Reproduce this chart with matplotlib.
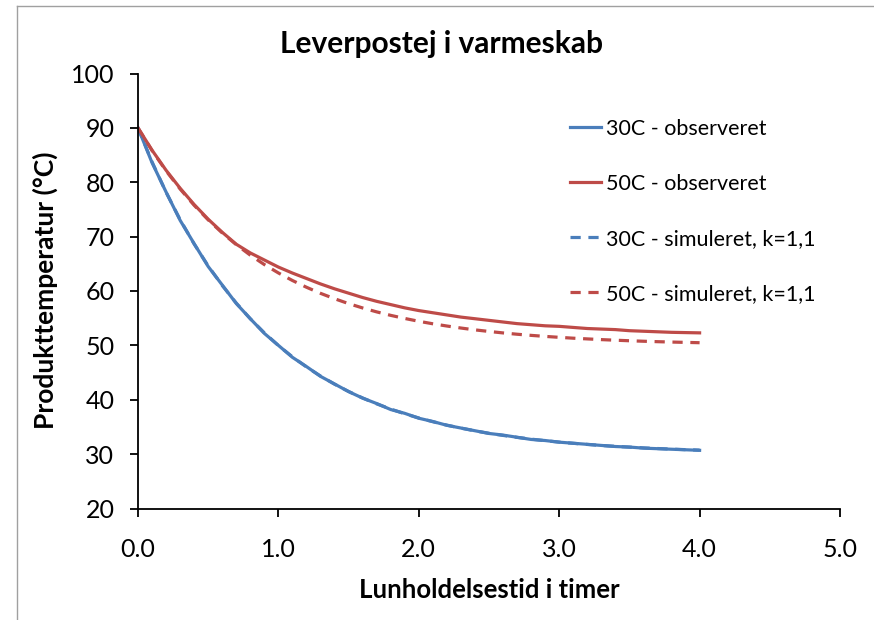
import matplotlib.pyplot as plt
from matplotlib.lines import Line2D

# tid i timer
t = [0.0, 0.1, 0.2, 0.3, 0.4, 0.5, 0.6, 0.7, 0.8, 0.9, 1.0,
     1.1, 1.2, 1.3, 1.4, 1.5, 1.6, 1.7, 1.8, 1.9, 2.0,
     2.1, 2.2, 2.3, 2.4, 2.5, 2.6, 2.7, 2.8, 2.9, 3.0,
     3.1, 3.2, 3.3, 3.4, 3.5, 3.6, 3.7, 3.8, 3.9, 4.0]

obs30 = [90.0, 83.6, 78.2, 73.0, 68.7, 64.5, 61.1, 57.7, 54.9, 52.2, 50.0,
         47.8, 46.1, 44.3, 42.9, 41.5, 40.3, 39.3, 38.2, 37.5, 36.6,
         36.0, 35.3, 34.8, 34.3, 33.8, 33.5, 33.1, 32.7, 32.5, 32.2,
         32.0, 31.8, 31.6, 31.4, 31.3, 31.1, 31.0, 30.9, 30.8, 30.7]
obs50 = [90.0, 85.9, 82.2, 78.9, 75.9, 73.2, 70.8, 68.6, 67.0, 65.7, 64.4,
         63.3, 62.3, 61.3, 60.4, 59.6, 58.8, 58.1, 57.5, 56.9, 56.4,
         56.0, 55.6, 55.2, 54.9, 54.6, 54.3, 54.0, 53.8, 53.6, 53.5,
         53.3, 53.1, 53.0, 52.9, 52.7, 52.6, 52.5, 52.4, 52.35, 52.3]
sim30 = [90.0, 83.75, 78.15, 73.13, 68.64, 64.61, 61.01, 57.78, 54.89, 52.30, 49.97,
         47.89, 46.03, 44.36, 42.86, 41.52, 40.32, 39.25, 38.29, 37.42, 36.65,
         35.96, 35.33, 34.78, 34.28, 33.83, 33.44, 33.08, 32.76, 32.47, 32.21,
         31.99, 31.78, 31.59, 31.43, 31.28, 31.15, 31.03, 30.92, 30.82, 30.74]
sim50 = [90.0, 85.83, 82.10, 78.76, 75.76, 73.08, 70.67, 68.52, 66.59, 64.86, 63.32,
         61.93, 60.69, 59.57, 58.58, 57.68, 56.88, 56.16, 55.52, 54.95, 54.43,
         53.97, 53.56, 53.19, 52.85, 52.56, 52.29, 52.05, 51.84, 51.65, 51.48,
         51.32, 51.19, 51.06, 50.95, 50.85, 50.76, 50.68, 50.61, 50.55, 50.49]

labels = ['30C - observeret', '50C - observeret',
          '30C - simuleret, k=1,1', '50C - simuleret, k=1,1']

blue = '#4a7ebb'
red = '#be4b48'

plt.rcParams['font.family'] = ['Lato', 'DejaVu Sans']

fig = plt.figure(figsize=(8.74, 6.2), dpi=100)
ax = fig.add_axes([138/874, 1-508.5/620, (840-138)/874, (508.5-73.5)/620])

ax.plot(t, obs30, color=blue, lw=2.3, label=labels[0])
ax.plot(t, obs50, color=red, lw=2.3, label=labels[1])
ax.plot(t, sim30, color=blue, lw=2.3, dashes=(3.2, 2.4), label=labels[2])
ax.plot(t, sim50, color=red, lw=2.3, dashes=(3.2, 2.4), label=labels[3])

ax.set_xlim(0, 5)
ax.set_ylim(20, 100)
ax.set_xticks([0, 1, 2, 3, 4, 5])
ax.set_xticklabels(['0.0', '1.0', '2.0', '3.0', '4.0', '5.0'])
ax.set_yticks(range(20, 101, 10))
ax.spines['top'].set_visible(False)
ax.spines['right'].set_visible(False)
for s in ['left', 'bottom']:
    ax.spines[s].set_linewidth(1.3)
ax.tick_params(direction='out', length=6, width=1.3, labelsize=18)
ax.tick_params(axis='y', pad=11)
ax.tick_params(axis='x', pad=15)

fig.text(441/874, 1-53/620, 'Leverpostej i varmeskab', ha='center',
         va='baseline', fontsize=21.5, fontweight='bold')
fig.text(489/874, 1-590/620, 'Lunholdelsestid i timer', ha='center',
         va='center', fontsize=18.5, fontweight='bold')
fig.text(45/874, 1-290/620, 'Produkttemperatur (°C)', ha='center',
         va='center', fontsize=19, fontweight='bold', rotation=90)

fig.legend(loc='upper left', bbox_to_anchor=(570/874, 1-119/620),
           frameon=False, fontsize=15.5, handlelength=1.45, handletextpad=0.2,
           labelspacing=1.62, borderpad=0, borderaxespad=0)

# ramme om diagrammet
fig.add_artist(Line2D([17/874, 17/874], [0, 1-6/620], color='#a0a0a0', lw=1))
fig.add_artist(Line2D([17/874, 1], [1-6/620, 1-6/620], color='#a0a0a0', lw=1))

fig.savefig('out.png', dpi=100)
